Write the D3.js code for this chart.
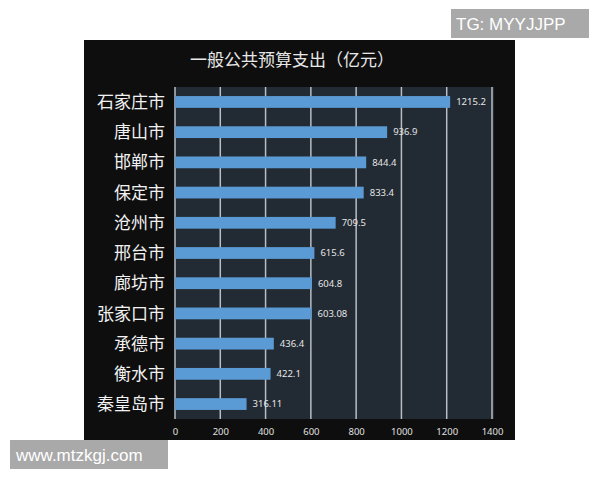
<!DOCTYPE html>
<html><head><meta charset="utf-8">
<script src="https://cdn.jsdelivr.net/npm/d3@7"></script>
<style>html,body{margin:0;padding:0;background:#fff;}svg{display:block;}</style>
</head><body>
<script>
const categories = ["石家庄市","唐山市","邯郸市","保定市","沧州市","邢台市","廊坊市","张家口市","承德市","衡水市","秦皇岛市"];
const values = [1215.2, 936.9, 844.4, 833.4, 709.5, 615.6, 604.8, 603.08, 436.4, 422.1, 316.11];
const valueLabels = ["1215.2","936.9","844.4","833.4","709.5","615.6","604.8","603.08","436.4","422.1","316.11"];
const tickValues = [0,200,400,600,800,1000,1200,1400];
const title = "一般公共预算支出（亿元）";

const svg = d3.select("body").append("svg").attr("width",600).attr("height",480);
svg.append("rect").attr("x",0).attr("y",0).attr("width",600).attr("height",480).attr("fill","#fff");
// dark panel
svg.append("rect").attr("x",84).attr("y",40).attr("width",431).attr("height",400).attr("fill","#0e0e0e");

const x = d3.scaleLinear().domain([0,1400]).range([175,492]);
const y = d3.scaleBand().domain(categories).range([87,419]).paddingInner(0.61).paddingOuter(0.3);

// plot area
svg.append("rect").attr("x",x(0)).attr("y",87).attr("width",x(1400)-x(0)+2).attr("height",332).attr("fill","#222a33");

// gridlines
svg.append("g").selectAll("line").data(tickValues).join("line")
  .attr("x1",d=>x(d)).attr("x2",d=>x(d)).attr("y1",87).attr("y2",419)
  .attr("stroke","#b9bec4").attr("stroke-width",1.5);

// bars
svg.append("g").selectAll("rect").data(values).join("rect")
  .attr("x",x(0)).attr("y",(d,i)=>y(categories[i]))
  .attr("width",d=>x(d)-x(0)).attr("height",y.bandwidth())
  .attr("fill","#5b9bd5");

// value labels
svg.append("g").selectAll("text").data(values).join("text")
  .attr("x",d=>x(d)+6).attr("y",(d,i)=>y(categories[i])+y.bandwidth()/2)
  .attr("dy","0.35em").attr("fill","#e6e6e6")
  .attr("font-family","'Noto Sans',sans-serif").attr("font-size",9.5)
  .text((d,i)=>valueLabels[i]);

// category labels
svg.append("g").selectAll("text").data(categories).join("text")
  .attr("x",165).attr("y",d=>y(d)+y.bandwidth()/2)
  .attr("dy","0.36em").attr("text-anchor","end").attr("fill","#f2f2f2")
  .attr("font-family","'Noto Sans CJK SC',sans-serif").attr("font-size",17)
  .text(d=>d);

// x axis
const axis = svg.append("g").attr("transform","translate(0,419)")
  .call(d3.axisBottom(x).tickValues(tickValues).tickFormat(d3.format("d")).tickSize(0).tickPadding(9));
axis.select(".domain").remove();
axis.selectAll("text").attr("fill","#e0e0e0").attr("font-family","'Noto Sans',sans-serif").attr("font-size",9.5);

// title
svg.append("text").attr("x",292).attr("y",66).attr("text-anchor","middle")
  .attr("fill","#e8e8e8").attr("font-family","'Noto Sans CJK SC',sans-serif").attr("font-size",17)
  .text(title);

// watermarks
svg.append("rect").attr("x",451).attr("y",9).attr("width",138).attr("height",29).attr("fill","#a9a9a9");
svg.append("text").attr("x",456).attr("y",30).attr("fill","#fff")
  .attr("font-family","'Liberation Sans',Arial,sans-serif").attr("font-size",17).text("TG: MYYJJPP");
svg.append("rect").attr("x",10).attr("y",440).attr("width",158).attr("height",29).attr("fill","#a9a9a9");
svg.append("text").attr("x",16).attr("y",461).attr("fill","#fff")
  .attr("font-family","'Liberation Sans',Arial,sans-serif").attr("font-size",17).text("www.mtzkgj.com");
</script>
</body></html>
